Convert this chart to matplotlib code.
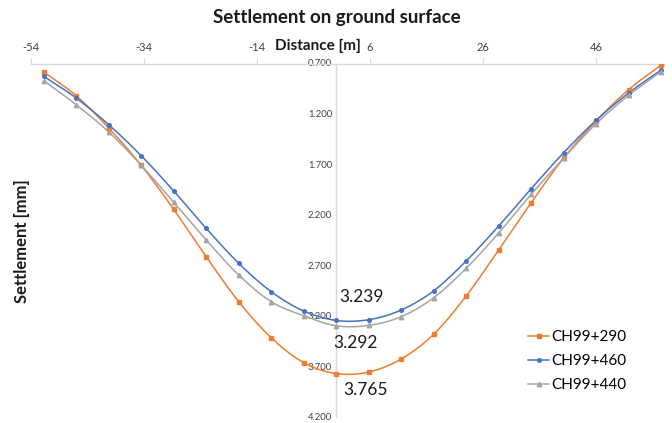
import numpy as np
import matplotlib
matplotlib.use("Agg")
import matplotlib.pyplot as plt

plt.rcParams['font.family'] = ['Lato', 'DejaVu Sans']

# ---- data ----
distance = [-51.75, -46.0, -40.25, -34.5, -28.75, -23.0, -17.25, -11.5, -5.75, 0.0,
            5.75, 11.5, 17.25, 23.0, 28.75, 34.5, 40.25, 46.0, 51.75, 57.5]
ch290 = [0.779, 1.014, 1.334, 1.703, 2.139, 2.608, 3.053, 3.410, 3.657, 3.765,
         3.750, 3.621, 3.376, 2.997, 2.542, 2.074, 1.630, 1.264, 0.954, 0.710]
ch460 = [0.822, 1.037, 1.301, 1.608, 1.957, 2.327, 2.673, 2.954, 3.146, 3.239,
         3.232, 3.136, 2.946, 2.650, 2.304, 1.935, 1.578, 1.257, 0.987, 0.759]
ch440 = [0.865, 1.103, 1.373, 1.703, 2.069, 2.443, 2.789, 3.053, 3.192, 3.292,
         3.288, 3.202, 3.014, 2.723, 2.373, 1.990, 1.631, 1.291, 1.010, 0.776]
series_names = ["CH99+290", "CH99+460", "CH99+440"]
x_ticks = [-54, -34, -14, 6, 26, 46]
y_ticks = [0.7, 1.2, 1.7, 2.2, 2.7, 3.2, 3.7, 4.2]


def smooth(x, y, n=20):
    """Catmull-Rom rendering of a smoothed line through the points."""
    x = np.asarray(x, float); y = np.asarray(y, float)
    px = np.concatenate([[2 * x[0] - x[1]], x, [2 * x[-1] - x[-2]]])
    py = np.concatenate([[2 * y[0] - y[1]], y, [2 * y[-1] - y[-2]]])
    xs, ys = [], []
    t = np.linspace(0, 1, n, endpoint=False)
    for i in range(1, len(px) - 2):
        p0, p1, p2, p3 = (np.array([px[j], py[j]]) for j in (i - 1, i, i + 1, i + 2))
        tt = t[:, None]
        pts = 0.5 * ((2 * p1) + (-p0 + p2) * tt + (2 * p0 - 5 * p1 + 4 * p2 - p3) * tt ** 2
                     + (-p0 + 3 * p1 - 3 * p2 + p3) * tt ** 3)
        xs.extend(pts[:, 0]); ys.extend(pts[:, 1])
    xs.append(x[-1]); ys.append(y[-1])
    return np.array(xs), np.array(ys)


fig = plt.figure(figsize=(6.72, 4.23), dpi=100)
ax = fig.add_axes([31 / 672, 1 - 417.5 / 423, (664 - 31) / 672, (417.5 - 64) / 423])

styles = [
    (ch290, '#ED7D31', 's', 3.2),
    (ch460, '#4472C4', 'o', 2.6),
    (ch440, '#A5A5A5', '^', 3.2),
]
for (vals, col, mk, ms), name in zip(styles, series_names):
    sx, sy = smooth(distance, vals)
    ax.plot(sx, sy, color=col, lw=1.1, zorder=3)
    ax.plot(distance, vals, ls='none', marker=mk, ms=ms, color=col, zorder=4)
    ax.plot([], [], color=col, lw=1.1, marker=mk, ms=ms, label=name)

ax.set_xlim(-54, 58)
ax.set_ylim(4.2, 0.7)

for s in ['bottom', 'right', 'left']:
    ax.spines[s].set_visible(False)
ax.spines['top'].set_color('#d9d9d9')
ax.spines['top'].set_linewidth(1.0)
ax.axvline(0, color='#d9d9d9', lw=1.0, zorder=1)

ax.xaxis.tick_top()
ax.set_xticks(x_ticks)
ax.set_xticklabels([str(v) for v in x_ticks])
ax.tick_params(axis='x', direction='out', length=4, color='#d9d9d9', pad=4,
               labelsize=8, labelcolor='#404040')

ax.set_yticks(y_ticks)
ax.set_yticklabels([])
ax.tick_params(axis='y', length=0)
for v in y_ticks:
    ax.annotate('%.3f' % v, xy=(0, v), xytext=(-4, 0), textcoords='offset pixels',
                ha='right', va='center', fontsize=6.8, color='#404040', zorder=2)

# data labels at the minimum
ax.annotate('%.3f' % ch460[9], xy=(distance[9], ch460[9]), xytext=(25, 23),
            textcoords='offset pixels', ha='center', va='center', fontsize=12.5, color='#1a1a1a')
ax.annotate('%.3f' % ch440[9], xy=(distance[9], ch440[9]), xytext=(19, -17),
            textcoords='offset pixels', ha='center', va='center', fontsize=12.5, color='#1a1a1a')
ax.annotate('%.3f' % ch290[9], xy=(distance[9], ch290[9]), xytext=(29.5, -16),
            textcoords='offset pixels', ha='center', va='center', fontsize=12.5, color='#1a1a1a')

fig.text(337 / 672, 1 - 18 / 423, 'Settlement on ground surface', ha='center', va='center',
         fontsize=13.5, fontweight='bold', color='#1a1a1a')
fig.text(318 / 672, 1 - 46 / 423, 'Distance [m]', ha='center', va='center',
         fontsize=11, fontweight='bold', color='#1a1a1a')
fig.text(22 / 672, 1 - 241 / 423, 'Settlement [mm]', ha='center', va='center', rotation=90,
         fontsize=12, fontweight='bold', color='#1a1a1a')

leg = ax.legend(loc='lower right', bbox_to_anchor=(632 / 672, 25 / 423),
                bbox_transform=fig.transFigure, frameon=False, fontsize=11,
                handlelength=1.4, handletextpad=0.1, labelspacing=0.65, borderaxespad=0)

fig.savefig('out.png', dpi=100)
